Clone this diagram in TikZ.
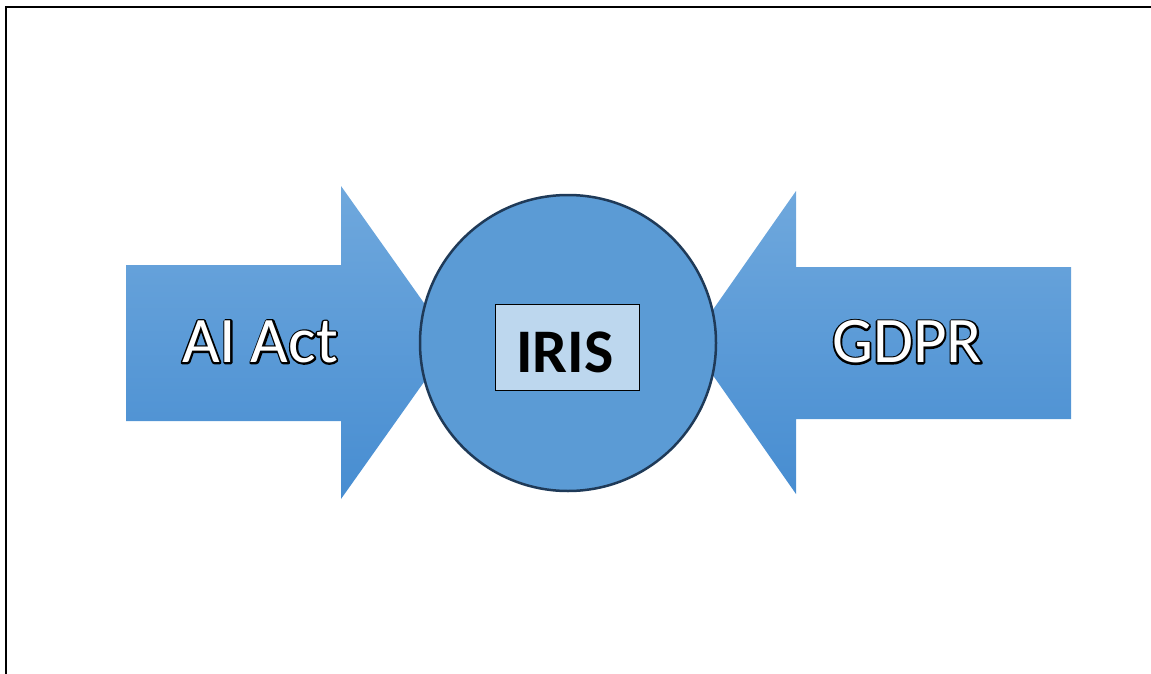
\documentclass[tikz,border=0pt]{standalone}
\usepackage{fontspec}
\setmainfont{Carlito}
\definecolor{arrtop}{HTML}{6FA8DD}
\definecolor{arrbot}{HTML}{478DD1}
\definecolor{circfill}{HTML}{5B9BD5}
\definecolor{circline}{HTML}{1F3A58}
\definecolor{boxfill}{HTML}{BDD7EE}
\newcommand\outlinedtext[1]{{\color{white}\special{pdf:literal 1 Tr 3.6 w 1 j 0 0 0 RG}\rlap{#1}\special{pdf:literal 0 Tr}#1}}
\tikzset{
  bigarrow/.style={top color=arrtop, bottom color=arrbot, draw=none},
  outlined/.style={font=\fontsize{65}{72}\selectfont, inner sep=0pt},
}
\begin{document}
\begin{tikzpicture}[x=1pt,y=-1pt]
\useasboundingbox (0,0) rectangle (1151,674);
% frame
\coordinate (f1) at (6,674);
\coordinate (f2) at (6,7);
\coordinate (f3) at (1151,7);
\draw[line width=2pt] (f1) -- (f2) -- (f3);
% left arrow
\shade[bigarrow] (126,265) -- (341,265) -- (341,186) -- (452,342.5) -- (341,499) -- (341,421) -- (126,421) -- cycle;
% right arrow
\shade[bigarrow] (1071,267) -- (796,267) -- (796,191) -- (690,342.5) -- (796,494) -- (796,419) -- (1071,419) -- cycle;
% circle
\node[circle, minimum size=296pt, inner sep=0pt, fill=circfill, draw=circline, line width=2.5pt] (iris) at (568,343) {};
% box
\node[draw=black, line width=0.8pt, fill=boxfill, minimum width=144pt, minimum height=86pt, inner sep=0pt] (box) at (567,347) {};
\node[font=\bfseries\fontsize{62}{66}\selectfont, inner sep=0pt] (iristext) at (565,352) {IRIS};
% labels
\node[outlined] (ai) at (260,342) {\outlinedtext{AI Act}};
\node[outlined] (gdpr) at (907,342) {\outlinedtext{GDPR}};
\end{tikzpicture}
\end{document}
